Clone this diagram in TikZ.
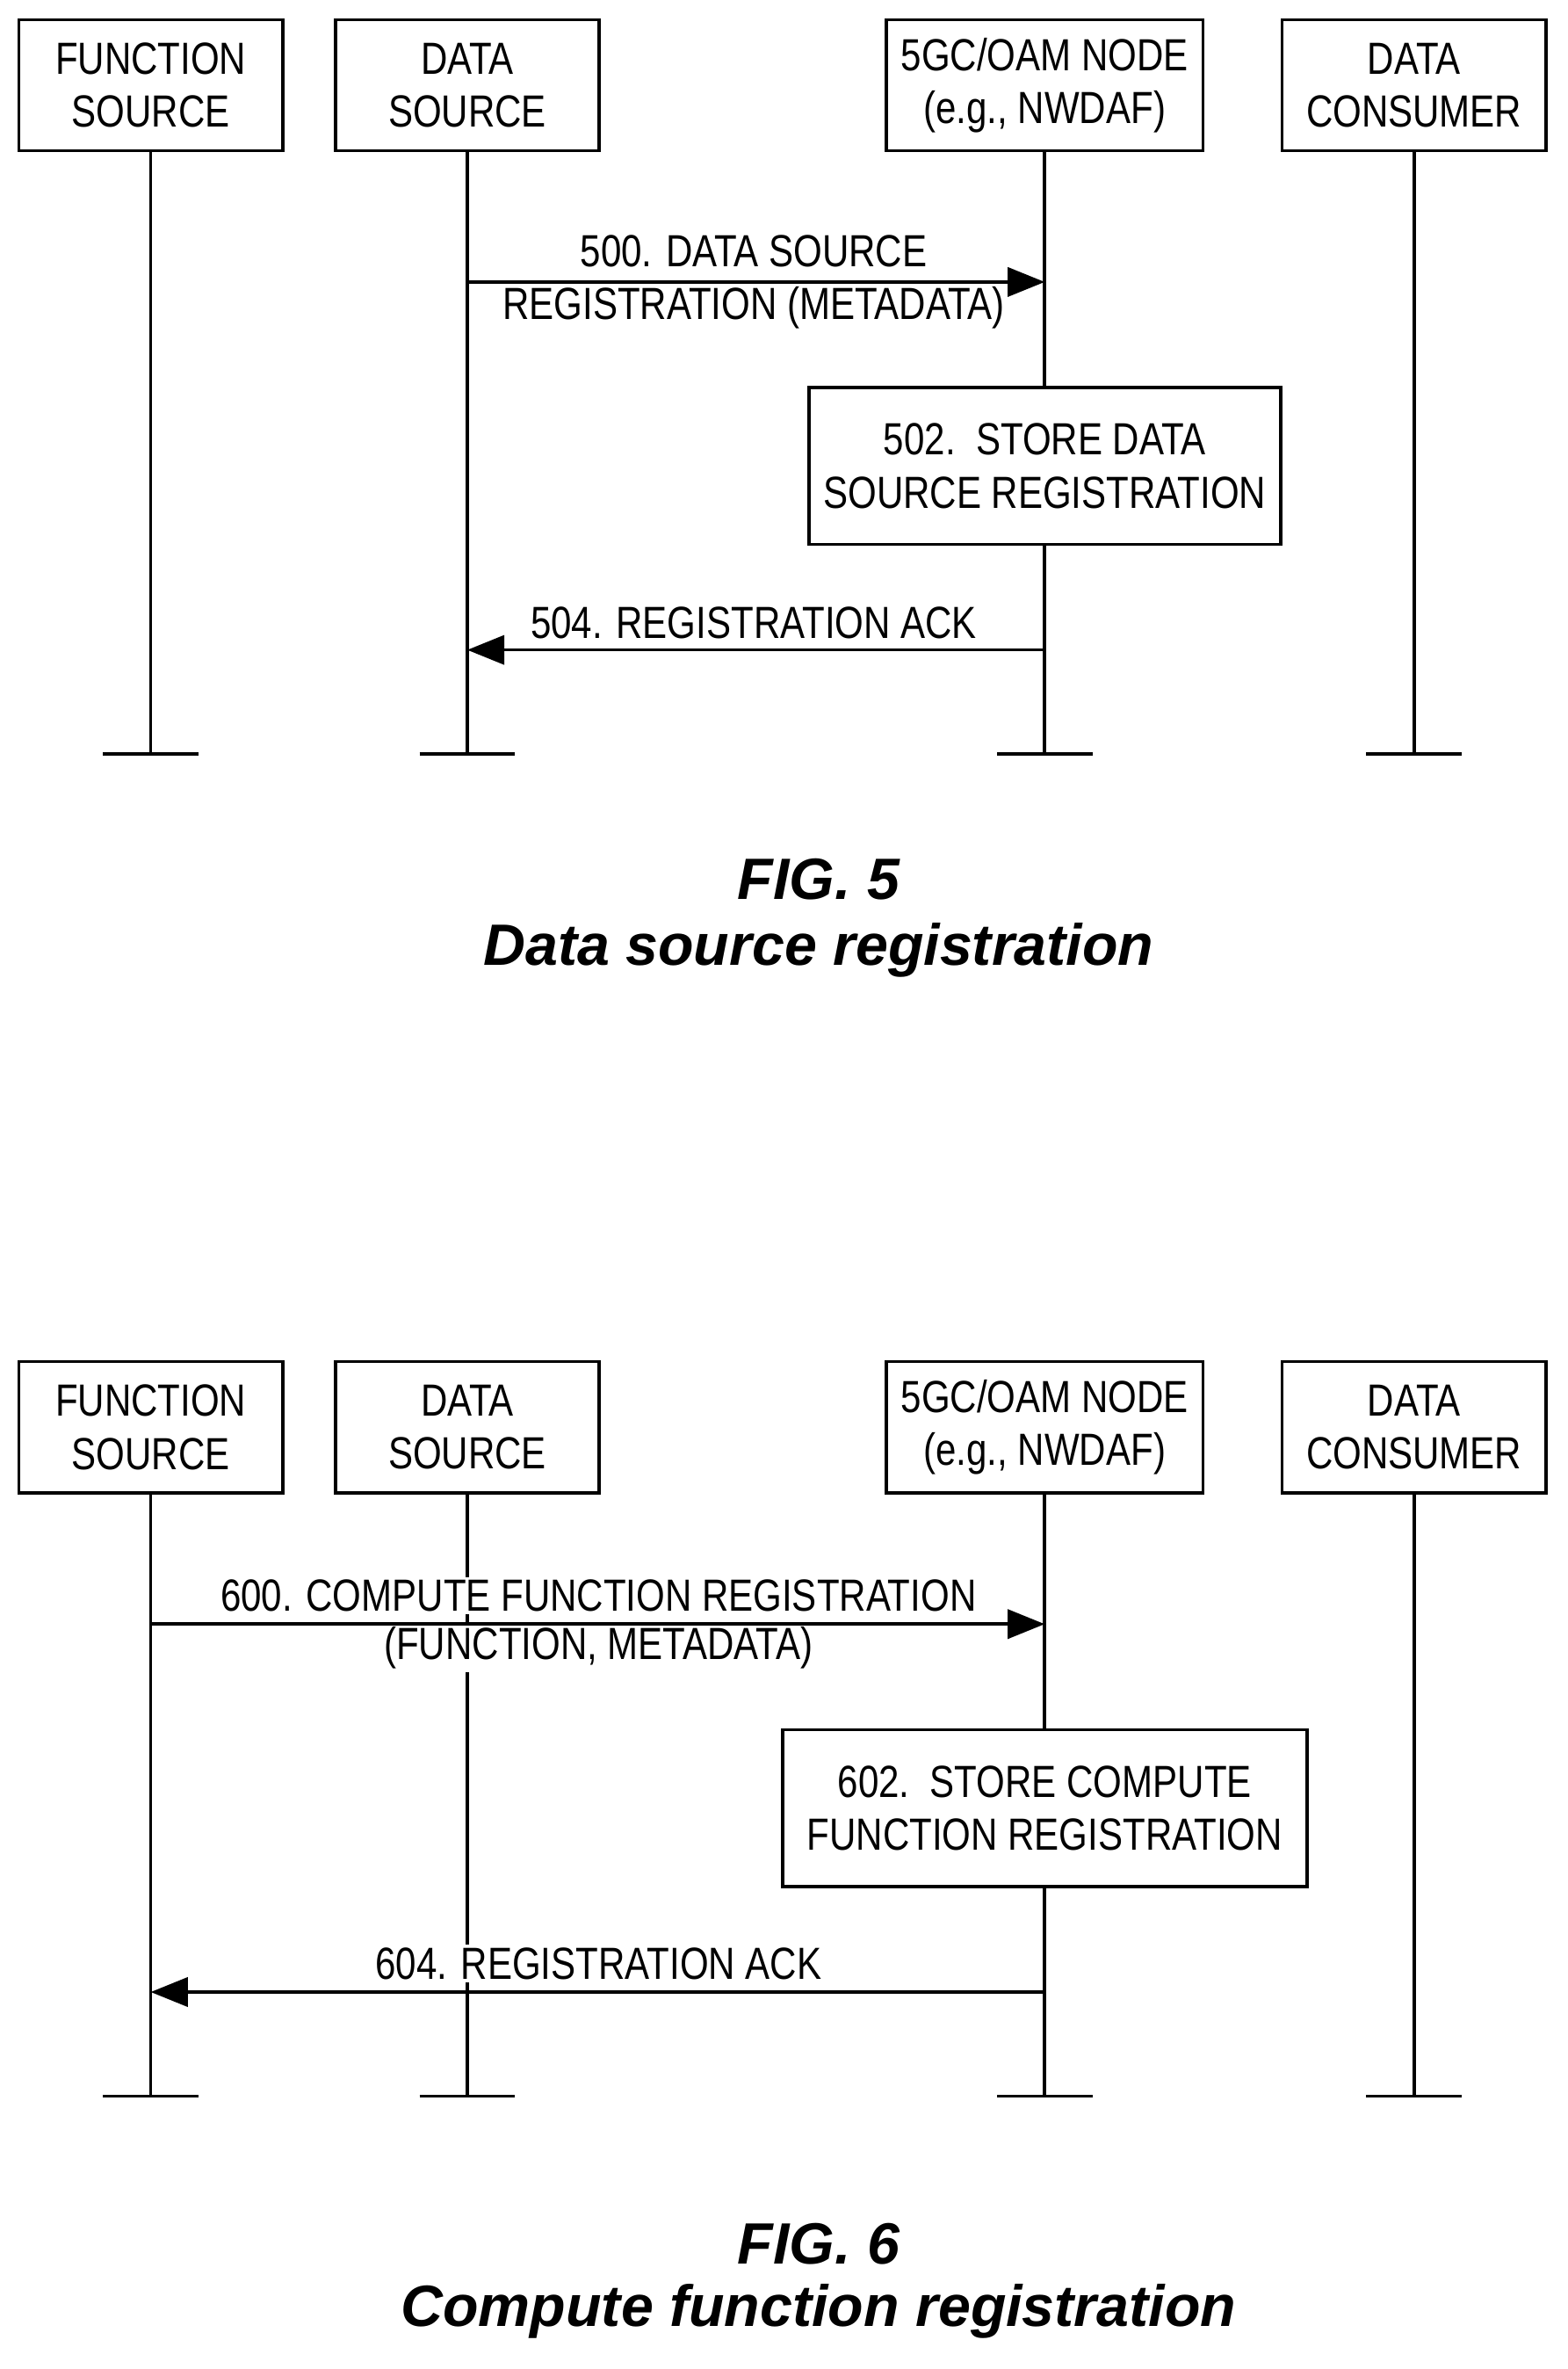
\documentclass[tikz,border=0pt]{standalone}
\usepackage{fontspec}
\setmainfont{Liberation Sans}[FakeStretch=0.82]
\newfontfamily\capfont{Liberation Sans}
\usetikzlibrary{positioning}
\usetikzlibrary{arrows.meta}
\begin{document}
\begin{tikzpicture}[x=0.02cm,y=-0.02cm,line width=1.2pt,
  actor/.style={draw,minimum width=3.5cm,minimum height=1.74cm,align=center,font=\fontsize{17}{20}\selectfont},
  task/.style={draw,minimum height=2.08cm,align=center,font=\fontsize{17}{20}\selectfont},
  msg/.style={-{Triangle[length=14pt,width=11pt]}},
  lbl/.style={fill=white,inner sep=1pt,align=center,font=\fontsize{17}{20}\selectfont},
  figcap/.style={font=\capfont\fontsize{22}{26}\selectfont\bfseries\itshape}]
\useasboundingbox (0,0) rectangle (1040,1571);

% FIG. 5
\node[actor] (fs5) at (100,56.5) {FUNCTION\\SOURCE};
\node[actor] (ds5) at (310,56.5) {DATA\\SOURCE};
\node[actor,minimum width=4.2cm] (nw5) at (693,56.5) {5GC/OAM NODE\\(e.g., NWDAF)};
\node[actor] (dc5) at (938,56.5) {DATA\\CONSUMER};
\coordinate (fse5) at (100,500);
\coordinate (dse5) at (310,500);
\coordinate (nwe5) at (693,500);
\coordinate (dce5) at (938,500);
\draw (fs5) -- (fse5) (ds5) -- (dse5) (dc5) -- (dce5);
\foreach \e in {fse5,dse5,nwe5,dce5}
  \draw ([xshift=-18]\e) -- ([xshift=18]\e);
\coordinate (a500s) at (310,187);
\coordinate (a500e) at (693,187);
\draw[msg] (a500s) -- (a500e);
\node[lbl,fill=none] (l500) at (500,187) {500. DATA SOURCE\\REGISTRATION (METADATA)};
\node[task,minimum width=6.26cm] (s502) at (693,309) {502.\ \ STORE DATA\\SOURCE REGISTRATION};
\draw (nw5) -- (s502) (s502) -- (nwe5);
\coordinate (a504s) at (693,431);
\coordinate (a504e) at (310,431);
\draw[msg] (a504s) -- (a504e);
\node[lbl] (l504) at (500,413) {504. REGISTRATION ACK};
\node[figcap] (f5) at (543,583) {FIG. 5};
\node[figcap] (t5) at (543,630) {Data source registration};

% FIG. 6
\node[actor] (fs6) at (100,946.5) {FUNCTION\\SOURCE};
\node[actor] (ds6) at (310,946.5) {DATA\\SOURCE};
\node[actor,minimum width=4.2cm] (nw6) at (693,946.5) {5GC/OAM NODE\\(e.g., NWDAF)};
\node[actor] (dc6) at (938,946.5) {DATA\\CONSUMER};
\coordinate (fse6) at (100,1390);
\coordinate (dse6) at (310,1390);
\coordinate (nwe6) at (693,1390);
\coordinate (dce6) at (938,1390);
\draw (fs6) -- (fse6) (ds6) -- (dse6) (dc6) -- (dce6);
\foreach \e in {fse6,dse6,nwe6,dce6}
  \draw ([xshift=-18]\e) -- ([xshift=18]\e);
\coordinate (a600s) at (100,1077);
\coordinate (a600e) at (693,1077);
\node[lbl] (l600a) at (397,1058) {600. COMPUTE FUNCTION REGISTRATION};
\node[lbl] (l600b) at (397,1093) {(FUNCTION, METADATA)};
\draw[msg] (a600s) -- (a600e);
\node[task,minimum width=6.96cm] (s602) at (693,1199) {602.\ \ STORE COMPUTE\\FUNCTION REGISTRATION};
\draw (nw6) -- (s602) (s602) -- (nwe6);
\coordinate (a604s) at (693,1321);
\coordinate (a604e) at (100,1321);
\draw[msg] (a604s) -- (a604e);
\node[lbl] (l604) at (397,1302) {604. REGISTRATION ACK};
\node[figcap] (f6) at (543,1488) {FIG. 6};
\node[figcap] (t6) at (543,1533) {Compute function registration};
\end{tikzpicture}
\end{document}
